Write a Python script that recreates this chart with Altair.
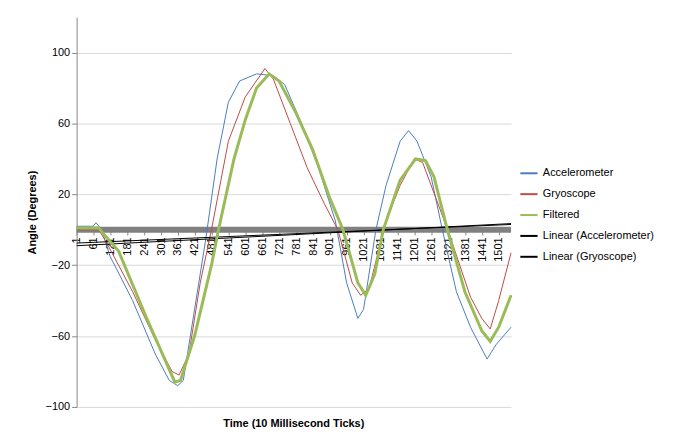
import altair as alt
import pandas as pd

acc_t = [1,60,70,90,120,200,280,330,360,380,420,460,500,540,580,640,700,740,800,860,920,960,1000,1020,1064,1100,1150,1180,1210,1260,1300,1350,1400,1459,1490,1544]
acc_v = [2,2,4,0,-15,-40,-70,-85,-88,-85,-45,-5,40,72,84,88,87,82,60,35,5,-30,-50,-45,0,25,50,56,50,30,0,-35,-55,-73,-65,-55]
gyr_t = [1,80,110,200,280,340,365,400,440,480,540,600,670,700,760,820,880,929,980,1010,1040,1100,1150,1200,1230,1300,1330,1400,1440,1470,1500,1544]
gyr_v = [0,0,-8,-35,-62,-80,-82,-70,-30,0,50,75,91,85,60,35,15,0,-30,-37,-33,5,25,40,38,8,-5,-38,-50,-56,-40,-13]
fil_t = [1,80,100,150,250,350,370,420,480,505,560,600,640,685,720,780,840,900,947,1000,1028,1060,1090,1150,1205,1240,1270,1318,1380,1440,1470,1500,1544]
fil_v = [1,1,-3,-12,-50,-86,-85,-60,-20,0,40,62,80,88,84,66,45,18,0,-30,-37,-25,0,28,40,39,30,0,-35,-57,-63,-55,-37]
lin_acc_t = [1,1544]
lin_acc_v = [-9,3.5]
lin_gyr_t = [1,1544]
lin_gyr_v = [-7.5,3]
x_ticks = list(range(1, 1502, 60))

names = ["Accelerometer","Gryoscope","Filtered","Linear (Accelerometer)","Linear (Gryoscope)"]
rows = []
for n, ts, vs in zip(names, [acc_t,gyr_t,fil_t,lin_acc_t,lin_gyr_t], [acc_v,gyr_v,fil_v,lin_acc_v,lin_gyr_v]):
    for t, v in zip(ts, vs):
        rows.append({"series": n, "t": t, "v": v})
df = pd.DataFrame(rows)

font = "Liberation Sans"
x = alt.X("t:Q", scale=alt.Scale(domain=[1,1544], nice=False, zero=False),
          axis=alt.Axis(values=x_ticks, labelAngle=270, offset=-178, grid=False, domain=False,
                        title=None, labelFontSize=11, labelColor="#000", tickColor="#888", format="d",
                        labelOverlap=False, labelFont=font, labelBaseline="middle", labelAlign="right"))
y = alt.Y("v:Q", scale=alt.Scale(domain=[-100,120], nice=False),
          axis=alt.Axis(values=list(range(-100,121,20)), title="Angle (Degrees)", titleFontSize=11,
                        labelOverlap=False, labelFlush=False,
                        titleFont=font, labelFont=font, labelFontSize=11, labelColor="#000",
                        gridColor="#d9d9d9", domainColor="#888", tickColor="#888", titlePadding=8))

zero = alt.Chart(pd.DataFrame({"v":[0]})).mark_rule(color="#808080", strokeWidth=6).encode(y=alt.Y("v:Q", scale=alt.Scale(domain=[-100,120])))

cscale = alt.Scale(domain=names, range=["#4a7ebb","#be4b48","#9bbb59","#000000","#000000"])
lines = alt.Chart(df).mark_line(strokeWidth=1).encode(
    x=x, y=y,
    color=alt.Color("series:N", scale=cscale, sort=names,
                    legend=alt.Legend(title=None, orient="none", legendX=445, legendY=147, symbolType="stroke",
                                      symbolStrokeWidth=2, symbolSize=300, rowPadding=6, labelFontSize=11,
                                      labelFont=font, labelColor="#000")),
    detail="series:N",
)
green = alt.Chart(df).transform_filter(alt.datum.series == "Filtered").mark_line(strokeWidth=3, color="#9bbb59").encode(x=x, y=y)

chart = alt.layer(zero, lines, green).properties(
    width=437, height=392,
    title=alt.TitleParams("Time (10 Millisecond  Ticks)", orient="bottom", fontSize=11, font=font, fontWeight="bold", offset=6),
    autosize=alt.AutoSizeParams(type="none"),
    padding={"left":69, "top":8, "right":180, "bottom":30},
).configure_view(stroke=None).configure_axis(titleFontWeight="bold")

chart.save("out.html", embed_options={"renderer": "svg", "actions": False})
